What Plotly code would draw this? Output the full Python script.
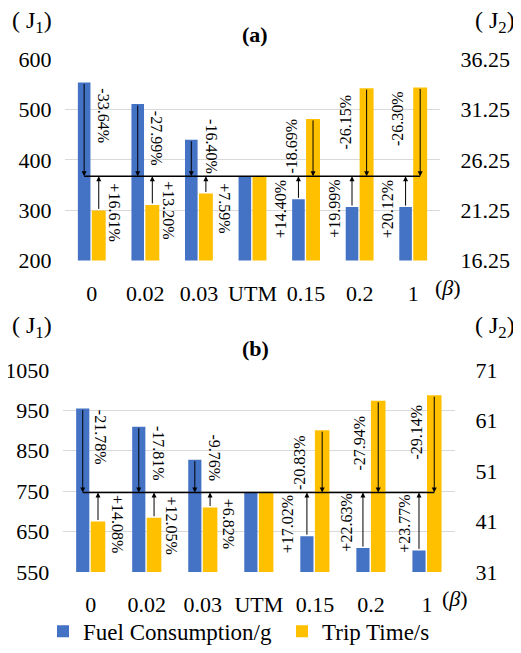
import plotly.graph_objects as go

# ---------------- data ----------------
categories = ["0", "0.02", "0.03", "UTM", "0.15", "0.2", "1"]

# panel (a)
fuel_a = [554.0, 511.0, 440.0, 367.6, 321.5, 306.2, 306.0]          # J1 (left axis)
time_a = [21.22, 21.77, 22.91, 24.63, 30.32, 33.38, 33.45]          # J2 (right axis)
pct_fuel_a = ["-33.64%", "-27.99%", "-16.40%", None, "+14.40%", "+19.99%", "+20.12%"]
pct_time_a = ["+16.61%", "+13.20%", "+7.59%", None, "-18.69%", "-26.15%", "-26.30%"]

# panel (b)
fuel_b = [954.5, 909.5, 828.0, 747.0, 638.5, 609.2, 603.5]
time_b = [40.99, 41.73, 43.77, 46.76, 59.06, 64.89, 65.99]
pct_fuel_b = ["-21.78%", "-17.81%", "-9.76%", None, "+17.02%", "+22.63%", "+23.77%"]
pct_time_b = ["+14.08%", "+12.05%", "+6.82%", None, "-20.83%", "-27.94%", "-29.14%"]

ref_index = categories.index("UTM")

# label placement (left-axis units for y, pixels for x shift)
lab_fuel_y_a = [487, 443, 425.5, None, 302, 302, 302]
lab_time_y_a = [296, 299, 304, None, 426.5, 475.5, 481.4]
lab_fuel_dx_a = [12, 11, 13, None, -26, -26, -26]
lab_time_dx_a = [23, 23, 26, None, -15, -14, -15]

lab_fuel_y_b = [882.7, 842.7, 831.2, None, 667.8, 672, 669.5]
lab_time_y_b = [669.5, 665.8, 670, None, 821.9, 870.3, 897.6]
lab_fuel_dx_b = [10, 12, 12, None, -27, -24, -22]
lab_time_dx_b = [27, 25, 26, None, -16, -11, -10]

# ---------------- style ----------------
BLUE = "#4472C4"
GOLD = "#FFC000"
FONT = "Liberation Serif"
PAGE_OFF = 8                    # default body margin of the html page
FW, FH = 521 - PAGE_OFF, 653 - PAGE_OFF
BLUE_OFF, BLUE_W = -0.26, 0.235
GOLD_OFF, GOLD_W = 0.0, 0.26
blue_c = BLUE_OFF + BLUE_W / 2
gold_c = GOLD_OFF + GOLD_W / 2


def fx(X):
    return (X - PAGE_OFF) / FW


def fy(Y):
    return 1 - (Y - PAGE_OFF) / FH


def dom_x(a, b):
    return [fx(a), fx(b)]


def dom_y(top, bottom):
    return [fy(bottom), fy(top)]


fig = go.Figure()

panels = [
    dict(fuel=fuel_a, time=time_a, pf=pct_fuel_a, pt=pct_time_a,
         fy=lab_fuel_y_a, ty=lab_time_y_a, fdx=lab_fuel_dx_a, tdx=lab_time_dx_a,
         xa="x", ya="y", ya2="y2", show=True),
    dict(fuel=fuel_b, time=time_b, pf=pct_fuel_b, pt=pct_time_b,
         fy=lab_fuel_y_b, ty=lab_time_y_b, fdx=lab_fuel_dx_b, tdx=lab_time_dx_b,
         xa="x2", ya="y3", ya2="y4", show=False),
]

annotations = []
shapes = []

for p in panels:
    fig.add_trace(go.Bar(x=categories, y=p["fuel"], xaxis=p["xa"], yaxis=p["ya"],
                         name="Fuel Consumption/g", marker=dict(color=BLUE, line=dict(width=0)),
                         width=BLUE_W, offset=BLUE_OFF, showlegend=p["show"],
                         legendgroup="fuel"))
    fig.add_trace(go.Bar(x=categories, y=p["time"], xaxis=p["xa"], yaxis=p["ya2"],
                         name="Trip Time/s", marker=dict(color=GOLD, line=dict(width=0)),
                         width=GOLD_W, offset=GOLD_OFF, showlegend=p["show"],
                         legendgroup="time"))
    fref = p["fuel"][ref_index]
    tref = p["time"][ref_index]
    # reference line at UTM level
    shapes.append(dict(type="line", xref=p["xa"], yref=p["ya"],
                       x0=0 + blue_c, x1=len(categories) - 1 + gold_c,
                       y0=fref, y1=fref, line=dict(color="black", width=1.5), layer="above"))
    for i, c in enumerate(categories):
        if i == ref_index:
            continue
        # arrows from bar top to reference line
        annotations.append(dict(x=i + blue_c, y=fref, ax=i + blue_c, ay=p["fuel"][i],
                                xref=p["xa"], yref=p["ya"], axref=p["xa"], ayref=p["ya"],
                                text="", showarrow=True, arrowhead=2, arrowsize=1,
                                arrowwidth=1, arrowcolor="black", standoff=0, startstandoff=0))
        annotations.append(dict(x=i + gold_c, y=tref, ax=i + gold_c, ay=p["time"][i],
                                xref=p["xa"], yref=p["ya2"], axref=p["xa"], ayref=p["ya2"],
                                text="", showarrow=True, arrowhead=2, arrowsize=1,
                                arrowwidth=1, arrowcolor="black", standoff=0, startstandoff=0))
        ang = 90 if i < ref_index else -90
        annotations.append(dict(x=i, y=p["fy"][i], xref=p["xa"], yref=p["ya"],
                                xshift=p["fdx"][i], text=p["pf"][i], showarrow=False,
                                textangle=ang, xanchor="center", yanchor="middle",
                                font=dict(family=FONT, size=16, color="black")))
        annotations.append(dict(x=i, y=p["ty"][i], xref=p["xa"], yref=p["ya"],
                                xshift=p["tdx"][i], text=p["pt"][i], showarrow=False,
                                textangle=ang, xanchor="center", yanchor="middle",
                                font=dict(family=FONT, size=16, color="black")))

# panel texts
big = dict(family=FONT, size=24, color="black")
mid = dict(family=FONT, size=22, color="black")
for yc in (22, 332):
    annotations.append(dict(x=fx(31.5), y=fy(yc), xref="paper", yref="paper",
                            text="( J<sub>1</sub>)", showarrow=False, xanchor="center",
                            yanchor="middle", font=big))
    annotations.append(dict(x=fx(495), y=fy(yc), xref="paper", yref="paper",
                            text="( J<sub>2</sub>)", showarrow=False, xanchor="center",
                            yanchor="middle", font=big))
annotations.append(dict(x=fx(255), y=fy(35), xref="paper", yref="paper", text="<b>(a)</b>",
                        showarrow=False, xanchor="center", yanchor="middle", font=mid))
annotations.append(dict(x=fx(255), y=fy(353), xref="paper", yref="paper", text="<b>(b)</b>",
                        showarrow=False, xanchor="center", yanchor="middle", font=mid))
annotations.append(dict(x=fx(448), y=fy(291), xref="paper", yref="paper", text="(<i>β</i>)",
                        showarrow=False, xanchor="center", yanchor="middle", font=mid))
annotations.append(dict(x=fx(455), y=fy(607), xref="paper", yref="paper", text="(<i>β</i>)",
                        showarrow=False, xanchor="center", yanchor="middle", font=mid))

tickfont = dict(family=FONT, size=22, color="black")
common_x = dict(type="category", range=[-0.5, 6.5], showgrid=False, zeroline=False,
                showline=False, ticks="outside", ticklen=13, tickcolor="rgba(0,0,0,0)",
                tickfont=tickfont, automargin=False, fixedrange=True)
left_y = dict(zeroline=False, showline=False, ticks="outside", ticklen=8,
              tickcolor="rgba(0,0,0,0)", tickfont=tickfont, automargin=False)
right_y = dict(zeroline=False, showline=False, ticks="outside", ticklen=15,
               tickcolor="rgba(0,0,0,0)", tickfont=tickfont, automargin=False)

fig.update_layout(
    width=FW, height=FH, margin=dict(l=0, r=0, t=0, b=0),
    paper_bgcolor="white", plot_bgcolor="white",
    barmode="overlay", font=dict(family=FONT, color="black"),
    xaxis=dict(domain=dom_x(65, 440), anchor="y", **common_x),
    yaxis=dict(domain=dom_y(60, 264), anchor="x", range=[200, 600], tick0=200, dtick=100,
               showgrid=True, gridcolor="#d9d9d9", gridwidth=1, **left_y),
    yaxis2=dict(domain=dom_y(60, 264), anchor="x", overlaying="y", side="right",
                range=[16.25, 36.25], tick0=16.25, dtick=5, tickformat=".2f",
                showgrid=False, **right_y),
    xaxis2=dict(domain=dom_x(62.7, 455), anchor="y3", **common_x),
    yaxis3=dict(domain=dom_y(375, 580), anchor="x2", range=[550, 1050], tick0=550, dtick=100,
                showgrid=True, gridcolor="#d9d9d9", gridwidth=1, **left_y),
    yaxis4=dict(domain=dom_y(375, 580), anchor="x2", overlaying="y3", side="right",
                range=[31, 71], tick0=31, dtick=10, showgrid=False, **right_y),
    legend=dict(orientation="h", x=fx(66), y=fy(640), xanchor="left", yanchor="middle",
                font=dict(family=FONT, size=23, color="black"), bgcolor="rgba(0,0,0,0)",
                traceorder="normal", entrywidth=194, entrywidthmode="pixels"),
    annotations=annotations, shapes=shapes,
)

fig.write_html("out.html")
